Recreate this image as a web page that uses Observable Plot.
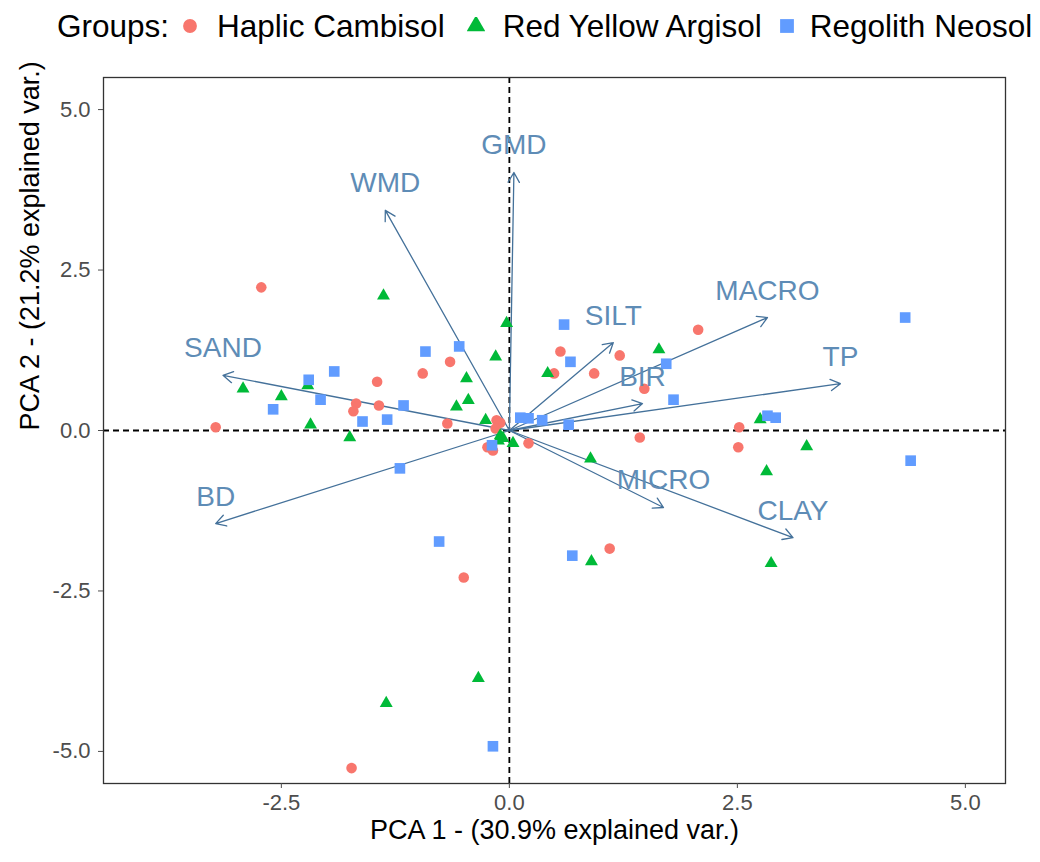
<!DOCTYPE html>
<html>
<head>
<meta charset="utf-8">
<script src="https://cdn.jsdelivr.net/npm/d3@7"></script>
<script src="https://cdn.jsdelivr.net/npm/@observablehq/plot@0.6"></script>
<style>
  html, body { margin: 0; padding: 0; background: #fff; }
  body { width: 1040px; height: 862px; overflow: hidden; font-family: "Liberation Sans", Arial, sans-serif; }
  #legend { height: 60px; display: flex; align-items: center; padding-left: 57px; padding-bottom: 8px; font-size: 31.5px; color: #000; box-sizing: border-box; white-space: nowrap; }
  #chart svg { display: block; }
</style>
</head>
<body>
<div id="legend"></div>
<div id="chart"></div>
<script>
// ---- Data ----
const groups = ["Haplic Cambisol", "Red Yellow Argisol", "Regolith Neosol"];
const groupColors = ["#F8766D", "#00BA38", "#619CFF"];
const groupSymbols = ["circle", "triangle", "square"];

const haplicX = [-2.72, -1.45, -1.68, -1.71, -1.43, -3.22, -0.65, -0.95, -0.68, -0.14, -0.10, -0.15, -0.24, -0.18, 0.21, 0.56, 0.49, 0.93, 1.21, 2.07, 1.48, 1.43, 2.52, 2.51, 1.10, -0.50, -1.73];
const haplicY = [2.23, 0.76, 0.42, 0.30, 0.39, 0.05, 1.07, 0.89, 0.11, 0.16, 0.12, 0.03, -0.26, -0.31, -0.20, 1.23, 0.89, 0.89, 1.17, 1.57, 0.65, -0.11, 0.05, -0.26, -1.84, -2.29, -5.26];

const argisolX = [-1.38, -2.92, -2.50, -2.21, -2.18, -1.75, -0.03, -0.15, -0.47, -0.58, -0.45, -0.26, -0.10, -0.07, -0.12, 0.04, 0.42, 1.64, 2.75, 3.26, 2.82, 0.89, 0.90, 2.87, -0.34, -1.35];
const argisolY = [2.10, 0.65, 0.53, 0.70, 0.09, -0.11, 1.67, 1.15, 0.81, 0.37, 0.47, 0.16, -0.08, -0.12, -0.16, -0.20, 0.89, 1.26, 0.17, -0.25, -0.64, -0.44, -2.04, -2.07, -3.86, -4.25];

const neosolX = [-2.20, -1.92, -2.07, -2.59, -1.61, -1.34, -1.16, -1.20, -0.92, -0.55, 0.12, 0.21, 0.36, 0.65, -0.19, 0.60, 0.67, 1.72, 1.80, 2.83, 2.92, 4.34, 4.40, -0.77, 0.69, -0.18];
const neosolY = [0.79, 0.92, 0.48, 0.33, 0.14, 0.17, 0.39, -0.59, 1.23, 1.31, 0.20, 0.19, 0.16, 0.09, -0.23, 1.65, 1.07, 1.04, 0.48, 0.23, 0.20, 1.76, -0.47, -1.73, -1.95, -4.92];

const varNames = ["GMD", "WMD", "SAND", "BD", "SILT", "BIR", "MICRO", "MACRO", "TP", "CLAY"];
const varX = [0.05, -1.36, -3.14, -3.22, 1.14, 1.46, 1.69, 2.83, 3.63, 3.11];
const varY = [4.02, 3.43, 0.86, -1.45, 1.37, 0.42, -1.20, 1.76, 0.73, -1.67];

const xTicks = [-2.5, 0.0, 2.5, 5.0];
const yTicks = [-5.0, -2.5, 0.0, 2.5, 5.0];
const xTitle = "PCA 1 - (30.9% explained var.)";
const yTitle = "PCA 2 - (21.2% explained var.)";
const legendTitle = "Groups:";

// ---- Build tables ----
const seriesX = [haplicX, argisolX, neosolX];
const seriesY = [haplicY, argisolY, neosolY];
const points = groups.map((g, gi) => seriesX[gi].map((x, i) => ({group: g, x, y: seriesY[gi][i]})));
const loadings = varNames.map((name, i) => ({name, x: varX[i], y: varY[i]}));

// ---- Legend ----
const legend = document.getElementById("legend");
const ns = "http://www.w3.org/2000/svg";
function symbolSvg(kind, color) {
  const svg = document.createElementNS(ns, "svg");
  svg.setAttribute("width", 18); svg.setAttribute("height", 18);
  svg.setAttribute("viewBox", "-9 -9 18 18");
  const p = document.createElementNS(ns, "path");
  const sizes = {circle: 150, triangle: 150, square: 190};
  const sym = {circle: d3.symbolCircle, triangle: d3.symbolTriangle, square: d3.symbolSquare}[kind];
  p.setAttribute("d", d3.symbol(sym, sizes[kind])());
  p.setAttribute("fill", color);
  svg.appendChild(p);
  svg.style.display = "block";
  svg.style.flex = "none";
  return svg;
}
const title = document.createElement("span");
title.textContent = legendTitle;
legend.appendChild(title);
const leftGaps = [12, 22, 16];
const rightGaps = [18, 18, 14];
groups.forEach((g, i) => {
  const s = symbolSvg(groupSymbols[i], groupColors[i]);
  s.style.marginLeft = leftGaps[i] + "px";
  s.style.marginRight = rightGaps[i] + "px";
  legend.appendChild(s);
  const t = document.createElement("span");
  t.textContent = g;
  legend.appendChild(t);
});

// ---- Chart ----
const fmt = d => d.toFixed(1);
const chart = Plot.plot({
  width: 1040,
  height: 802,
  marginTop: 17,
  marginBottom: 79,
  marginLeft: 103,
  marginRight: 35,
  style: {fontFamily: "'Liberation Sans', Arial, sans-serif", background: "#fff", overflow: "visible"},
  x: {domain: [-4.45, 5.44]},
  y: {domain: [-5.5, 5.5]},
  marks: [
    Plot.ruleX([0], {stroke: "#000", strokeWidth: 1.8, strokeDasharray: "6,4"}),
    Plot.ruleY([0], {stroke: "#000", strokeWidth: 1.8, strokeDasharray: "6,4"}),
    Plot.arrow(loadings, {x1: d => 0, y1: d => 0, x2: "x", y2: "y", stroke: "#44719A", strokeWidth: 1.3, headLength: 13, headAngle: 60}),
    Plot.dot(points[0], {x: "x", y: "y", fill: groupColors[0], symbol: groupSymbols[0], r: 5.3}),
    Plot.dot(points[1], {x: "x", y: "y", fill: groupColors[1], symbol: groupSymbols[1], r: 4.8}),
    Plot.dot(points[2], {x: "x", y: "y", fill: groupColors[2], symbol: groupSymbols[2], r: 6.0}),
    Plot.text(loadings, {x: "x", y: "y", text: "name", dy: -27, fontSize: 28, fill: "#5E8CB6"}),
    Plot.frame({stroke: "#333", strokeWidth: 1.3}),
    Plot.axisX({ticks: xTicks, tickFormat: fmt, tickSize: 5, tickPadding: 6, fontSize: 22, color: "#4D4D4D", label: null}),
    Plot.axisY({ticks: yTicks, tickFormat: fmt, tickSize: 5, tickPadding: 8, fontSize: 22, color: "#4D4D4D", label: null}),
    Plot.text([xTitle], {frameAnchor: "bottom", dy: 55, fontSize: 27, fill: "#000"}),
    Plot.text([yTitle], {frameAnchor: "left", dx: -73, rotate: -90, fontSize: 27, fill: "#000"})
  ]
});
document.getElementById("chart").appendChild(chart);
</script>
</body>
</html>
